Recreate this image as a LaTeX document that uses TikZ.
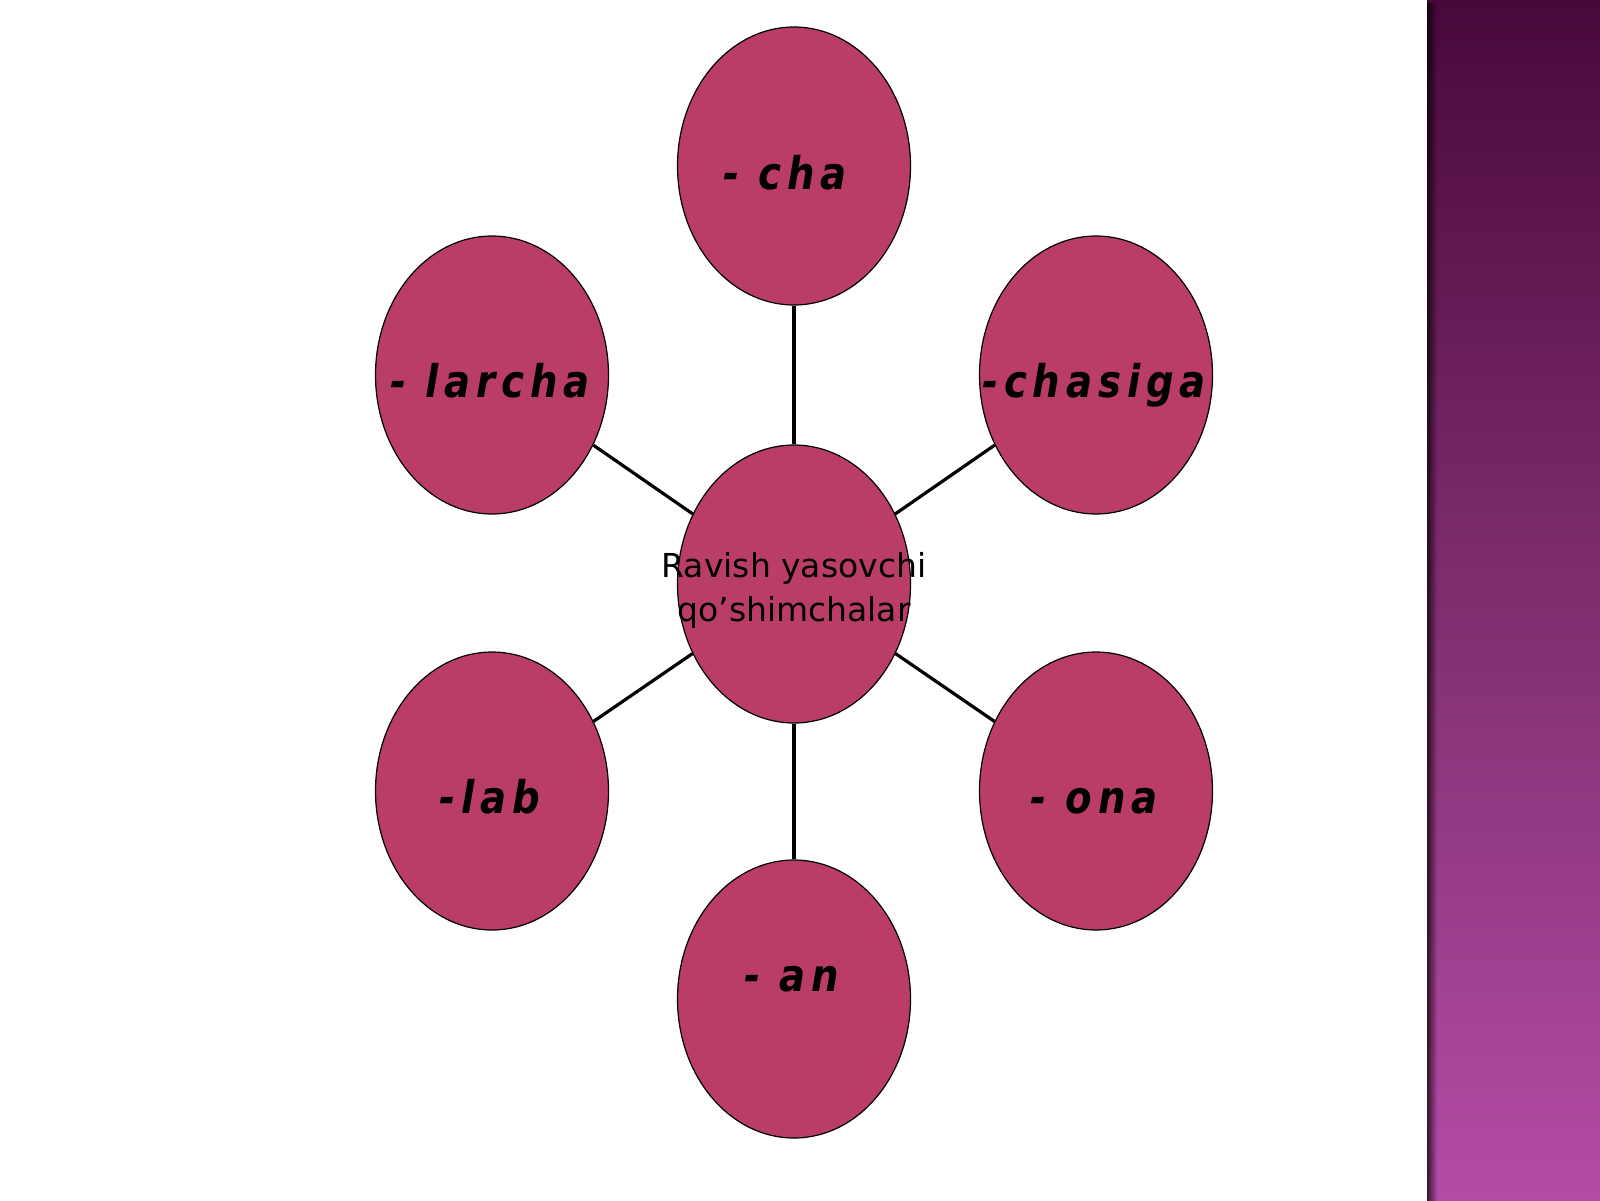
\documentclass[tikz,border=0pt]{standalone}
\usepackage{fontspec}
\setmainfont{DejaVu Sans}
\newfontfamily\labfont[LetterSpace=13, FakeStretch=0.86]{DejaVu Sans}
\usetikzlibrary{shapes.geometric,fadings}
\definecolor{petalc}{RGB}{185,61,101}
\definecolor{sbtop}{RGB}{72,8,58}
\definecolor{sbmid}{RGB}{128,46,112}
\definecolor{sbbot}{RGB}{180,76,165}
\begin{document}
\begin{tikzpicture}[x=1pt,y=-1pt,
  petal/.style={ellipse, draw=black, line width=1.2pt, fill=petalc,
    minimum width=233pt, minimum height=278pt, inner sep=0pt},
  lab/.style={anchor=base, inner sep=0pt,
    font=\labfont\bfseries\itshape\fontsize{45}{52}\selectfont},
  link/.style={line width=3.2pt, draw=black},
  ctxt/.style={align=center, inner sep=0pt,
    font=\fontsize{33}{44}\selectfont}]
\useasboundingbox (0,0) rectangle (1600,1200);
\fill[white] (0,0) rectangle (1600,1200);
% side bar
\shade[top color=sbtop, bottom color=sbbot, middle color=sbmid] (1427,0) rectangle (1600,1200);
\fill[black, opacity=0.7, path fading=east] (1427,0) rectangle (1437,1200);
% ellipses
\node[petal] (c)  at (794,584) {};
\node[petal] (t)  at (794,166) {};
\node[petal] (tl) at (492,375) {};
\node[petal] (tr) at (1096,375) {};
\node[petal] (bl) at (492,791) {};
\node[petal] (br) at (1096,791) {};
\node[petal] (b)  at (794,999) {};
% connectors
\draw[link] (c) -- (t);
\draw[link] (c) -- (tl);
\draw[link] (c) -- (tr);
\draw[link] (c) -- (bl);
\draw[link] (c) -- (br);
\draw[link] (c) -- (b);
% labels
\node[lab] (lt)  at (785,189) {- cha};
\node[lab] (ltl) at (490,397) {- larcha};
\node[lab] (ltr) at (1094,397) {-chasiga};
\node[lab] (lbl) at (490,813) {-lab};
\node[lab] (lbr) at (1094,813) {- ona};
\node[lab] (lb)  at (792,991) {- an};
\node[ctxt] (lc) at (794,590) {Ravish yasovchi\\qo’shimchalar};
\end{tikzpicture}
\end{document}
